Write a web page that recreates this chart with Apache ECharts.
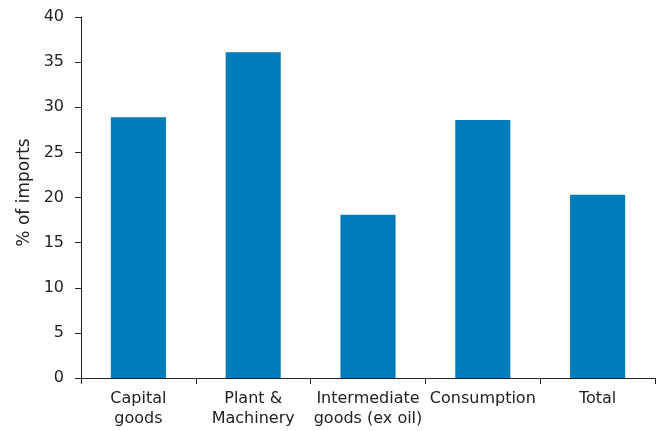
<!DOCTYPE html>
<html><head><meta charset="utf-8">
<script src="https://cdn.jsdelivr.net/npm/echarts@6/dist/echarts.min.js"></script>
<style>html,body{margin:0;padding:0;background:#fff}#c{width:656px;height:431px}</style>
</head><body><div id="c"></div>
<script>
const categories = ["Capital\ngoods", "Plant &\nMachinery", "Intermediate\ngoods (ex oil)", "Consumption", "Total"];
const values = [28.9, 36.1, 18.1, 28.6, 20.3];
const yTitle = "% of imports";

const chart = echarts.init(document.getElementById('c'), null, {renderer: 'canvas'});
const font = 'DejaVu Sans, Verdana, sans-serif';
chart.setOption({
  animation: false,
  grid: {left: 81, right: 1, top: 17, bottom: 53, containLabel: false},
  xAxis: {
    type: 'category', data: categories,
    axisLine: {lineStyle: {color: '#222', width: 1}},
    axisTick: {show: true, alignWithLabel: false, length: 6, lineStyle: {color: '#222'}},
    axisLabel: {color: '#222', fontFamily: font, fontSize: 16, lineHeight: 20, margin: 11, interval: 0}
  },
  yAxis: {
    type: 'value', min: 0, max: 40, interval: 5,
    name: yTitle, nameLocation: 'middle', nameGap: 48, nameRotate: 90,
    nameTextStyle: {color: '#222', fontFamily: font, fontSize: 17, padding: [0, 0, 0, 10]},
    axisLine: {show: true, lineStyle: {color: '#222'}},
    axisTick: {show: true, length: 6, lineStyle: {color: '#222'}},
    axisLabel: {color: '#222', fontFamily: font, fontSize: 16, margin: 17},
    splitLine: {show: false}
  },
  series: [{
    type: 'bar', data: values, barWidth: '48%',
    itemStyle: {color: '#017DBB'}
  }]
});
</script></body></html>
